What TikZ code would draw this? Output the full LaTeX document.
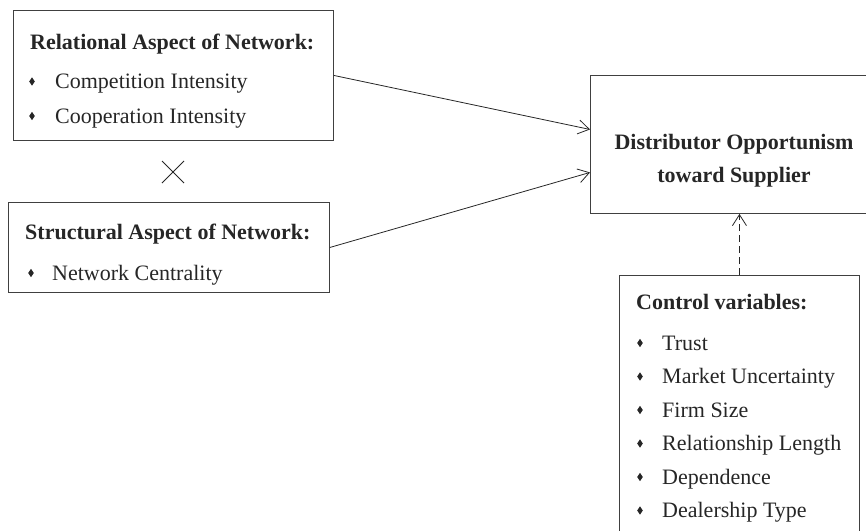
\documentclass[tikz,border=0pt]{standalone}
\usepackage{fontspec}
\setmainfont{Liberation Serif}
\usetikzlibrary{arrows.meta}
\tikzset{
  box/.style={draw=black!75, line width=0.9pt, rectangle, inner sep=0pt, anchor=north west},
  ttl/.style={anchor=base west, inner sep=0pt, font=\fontsize{22}{26}\selectfont\bfseries, text=black!85},
  itm/.style={anchor=base west, inner sep=0pt, font=\fontsize{22}{26}\selectfont, text=black!85},
  ctr/.style={anchor=base, inner sep=0pt, font=\fontsize{22}{26}\selectfont\bfseries, text=black!85},
  conn/.style={draw=black!85, line width=0.8pt, -{Straight Barb[length=11pt,width=14pt,line width=0.8pt]}},
  dconn/.style={conn, dash pattern=on 7pt off 4pt}
}
\newcommand{\bul}[2]{\fill[black!85] (#1,#2-4.2) -- (#1+2.8,#2) -- (#1,#2+4.2) -- (#1-2.8,#2) -- cycle;}
\begin{document}
\begin{tikzpicture}[x=1pt,y=-1pt]
\useasboundingbox (0,0) rectangle (866,530);
% boxes
\node[box, minimum width=320pt, minimum height=130pt] (rel) at (13,10) {};
\node[box, minimum width=321pt, minimum height=90pt] (str) at (8,202) {};
\node[box, minimum width=290pt, minimum height=138pt] (dist) at (590,75) {};
\node[box, minimum width=240pt, minimum height=262pt] (ctrl) at (619,275) {};
% relational
\node[ttl] (relt) at (30,49) {Relational Aspect of Network:};
\bul{32}{81.5}
\node[itm] (rel1) at (55,88.5) {Competition Intensity};
\bul{32}{116}
\node[itm] (rel2) at (55,123) {Cooperation Intensity};
% times sign
\draw[black!85, line width=0.9pt] (162,161) -- (184,183) (162,183) -- (184,161);
% structural
\node[ttl] (strt) at (25,239) {Structural Aspect of Network:};
\bul{31}{273}
\node[itm] (str1) at (52,280) {Network Centrality};
% outcome
\node[ctr] (d1) at (734,149) {Distributor Opportunism};
\node[ctr] (d2) at (734,182) {toward Supplier};
% control
\node[ttl] (ctlt) at (636,309) {Control variables:};
\bul{640}{343}
\node[itm] (c1) at (662,350) {Trust};
\bul{640}{376.5}
\node[itm] (c2) at (662,383.5) {Market Uncertainty};
\bul{640}{410}
\node[itm] (c3) at (662,417) {Firm Size};
\bul{640}{443.5}
\node[itm] (c4) at (662,450.5) {Relationship Length};
\bul{640}{477}
\node[itm] (c5) at (662,484) {Dependence};
\bul{640}{510.5}
\node[itm] (c6) at (662,517.5) {Dealership Type};
% connectors
\draw[conn] (rel.east) -- ([yshift=15pt]dist.west);
\draw[conn] (str.east) -- ([yshift=-28pt]dist.west);
\draw[dconn] (ctrl.north) -- (ctrl.north |- dist.south);
\end{tikzpicture}
\end{document}
